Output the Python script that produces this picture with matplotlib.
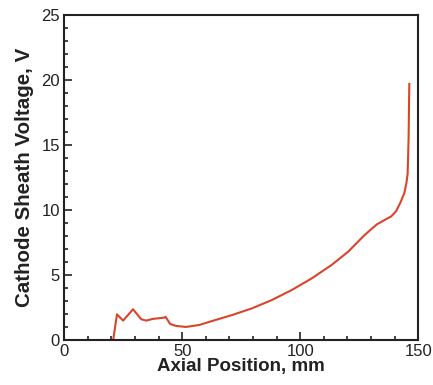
import matplotlib
matplotlib.use("Agg")
from matplotlib import pyplot as plt
from matplotlib.ticker import MultipleLocator

# Axial position [mm] and cathode sheath voltage [V]
position = [20.8, 22.4, 25.0, 29.2, 32.7, 34.8, 37.6, 42.5, 43.0, 44.9, 47.4, 51.6,
            57.2, 64.2, 71.2, 79.7, 88.1, 96.5, 104.9, 113.3, 120.3, 127.3, 132.5,
            134.5, 136.4, 138.5, 140.6, 142.5, 144.1, 145.0, 145.5, 145.9, 146.2]
voltage = [0.0, 1.97, 1.49, 2.36, 1.59, 1.49, 1.62, 1.72, 1.78, 1.23, 1.08, 1.0,
           1.15, 1.54, 1.92, 2.44, 3.08, 3.85, 4.74, 5.77, 6.79, 8.08, 8.9,
           9.1, 9.3, 9.5, 9.9, 10.6, 11.3, 12.1, 12.8, 15.5, 19.7]

plt.rcParams['font.family'] = ['Liberation Sans', 'DejaVu Sans']

fig = plt.figure(figsize=(4.33, 3.85), dpi=100)
ax = fig.add_axes([0.148, 0.117, 0.818, 0.844])
ax.plot(position, voltage, color='#d9442b', linewidth=1.5)

ax.set_xlim(0, 150)
ax.set_ylim(0, 25)
ax.xaxis.set_major_locator(MultipleLocator(50))
ax.xaxis.set_minor_locator(MultipleLocator(10))
ax.yaxis.set_major_locator(MultipleLocator(5))
ax.yaxis.set_minor_locator(MultipleLocator(1))
ax.tick_params(which='both', direction='in', labelsize=12, width=1.2, colors='#222222')
ax.tick_params(which='major', length=6)
ax.tick_params(which='minor', length=3)
ax.tick_params(axis='x', pad=3)
ax.tick_params(axis='y', pad=3)
for s in ax.spines.values():
    s.set_linewidth(1.5)
    s.set_color('#222222')

ax.set_xlabel('Axial Position, mm', fontsize=13.5, fontweight='bold', labelpad=-1, color='#222222')
ax.set_ylabel('Cathode Sheath Voltage, V', fontsize=14.8, fontweight='bold', labelpad=5, color='#222222')

fig.savefig('out.png', dpi=100)
